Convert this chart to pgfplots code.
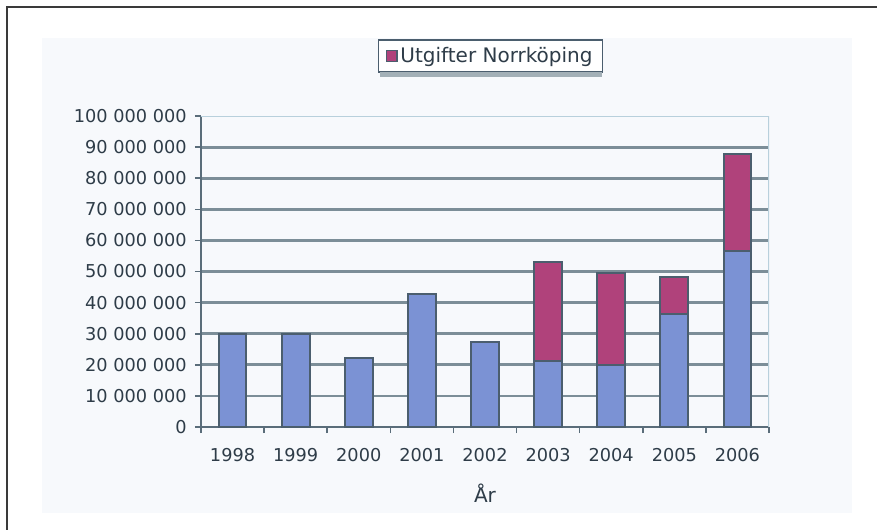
\documentclass[border=0pt]{standalone}
\usepackage{fontspec}
\setmainfont{DejaVu Sans}
\usepackage{pgfplots}
\pgfplotsset{compat=1.18}
\definecolor{barblue}{HTML}{7B92D4}
\definecolor{barmag}{HTML}{B0427B}
\definecolor{barborder}{HTML}{4B5E6E}
\definecolor{gridcol}{HTML}{7C8E98}
\definecolor{axisdark}{HTML}{5A6D7A}
\definecolor{lightblue}{HTML}{B8D0DC}
\definecolor{textcol}{HTML}{2E3C48}
\definecolor{panel}{HTML}{F7F9FC}
\definecolor{framecol}{HTML}{3A3A3A}
\begin{document}
\begin{tikzpicture}
\useasboundingbox (-150.75pt,-76.5pt) rectangle (507pt,320.25pt);
\fill[white] (-150.75pt,-76.5pt) rectangle (507pt,320.25pt);
\fill[panel] (-119.25pt,-64.5pt) rectangle (488.25pt,291.75pt);
\draw[line width=1.5pt, framecol] (-145.5pt,-80pt) -- (-145.5pt,315pt) -- (510pt,315pt);
\begin{axis}[
  at={(0pt,0pt)}, anchor=south west,
  scale only axis, width=426pt, height=233.25pt,
  ybar stacked, bar width=0.44,
  xmin=-0.5, xmax=8.5, ymin=0, ymax=100000000,
  axis x line=bottom, axis y line=left,
  x axis line style={-, draw=axisdark, line width=1.5pt},
  y axis line style={-, draw=axisdark, line width=1.5pt},
  tick align=outside,
  xtick={0,1,2,3,4,5,6,7,8},
  xticklabels={1998,1999,2000,2001,2002,2003,2004,2005,2006},
  major x tick style={draw=none},
  minor xtick={-0.5,0.5,1.5,2.5,3.5,4.5,5.5,6.5,7.5,8.5},
  minor x tick style={draw=axisdark, line width=1.2pt},
  minor tick length=4.5pt,
  major tick length=4.5pt,
  ytick={10000000,20000000,30000000,40000000,50000000,60000000,70000000,80000000,90000000},
  yticklabels={10 000 000,20 000 000,30 000 000,40 000 000,50 000 000,60 000 000,70 000 000,80 000 000,90 000 000},
  extra y ticks={0,100000000},
  extra y tick labels={0,100 000 000},
  extra y tick style={ymajorgrids=false},
  scaled y ticks=false,
  ymajorgrids,
  major grid style={draw=gridcol, line width=2.1pt},
  major y tick style={draw=axisdark, line width=1.2pt},
  ticklabel style={font=\fontsize{13.3}{15}\selectfont, text=textcol},
  yticklabel style={inner sep=0pt, xshift=-6pt},
  xticklabel style={anchor=base, inner sep=0pt, yshift=-21pt},
  xlabel={År},
  xlabel style={at={(axis description cs:0.5,0)}, anchor=center, yshift=-49.5pt, font=\fontsize{15}{17}\selectfont, text=textcol},
  legend style={at={(0.5097,1.193)}, anchor=center, draw=barborder, line width=1.2pt, fill=white,
    font=\fontsize{15}{17}\selectfont, text=textcol, inner xsep=5.5pt, inner ysep=3.5pt},
  legend image code/.code={\draw[#1, line width=1pt] (0pt,-4pt) rectangle (8pt,4pt);},
]
\addplot[fill=barblue, draw=barborder, line width=1.5pt, forget plot] coordinates {
 (0,29800000) (1,29800000) (2,22300000) (3,42800000) (4,27200000)
 (5,21300000) (6,19900000) (7,36300000) (8,56500000)};
\addplot[fill=barmag, draw=barborder, line width=1.5pt] coordinates {
 (0,0) (1,0) (2,0) (3,0) (4,0)
 (5,31700000) (6,29600000) (7,12000000) (8,31400000)};
\addlegendentry{Utgifter Norrköping}
\draw[lightblue, line width=1.5pt] (rel axis cs:0,1) -- (rel axis cs:1,1) -- (rel axis cs:1,0);
\end{axis}
\fill[gridcol!70] (134pt,262.5pt) rectangle (301pt,266pt);
\end{tikzpicture}
\end{document}
